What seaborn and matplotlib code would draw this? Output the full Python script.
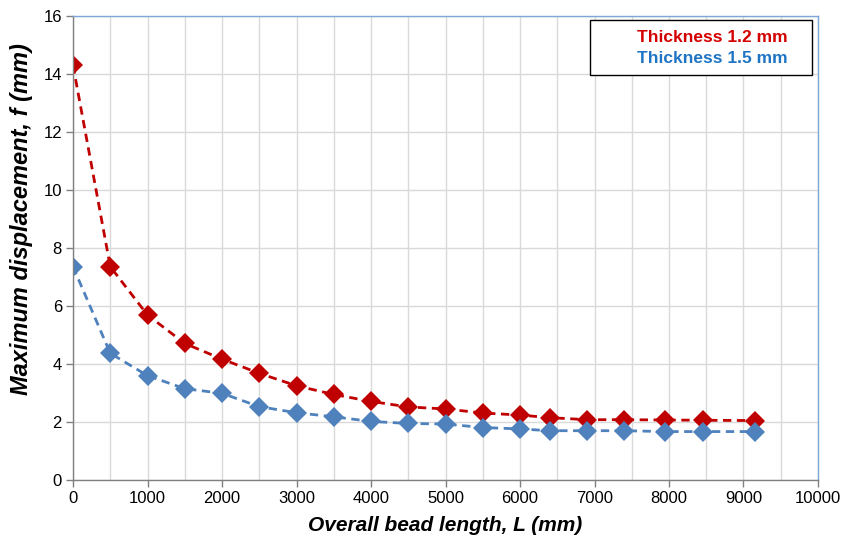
import numpy as np
import pandas as pd
import matplotlib
matplotlib.use("Agg")
import matplotlib.pyplot as plt
from matplotlib.patches import Rectangle
from matplotlib.ticker import MultipleLocator
import seaborn as sns

# bead length (mm)
lengths = [0, 500, 1000, 1500, 2000, 2500, 3000, 3500, 4000, 4500, 5000,
           5500, 6000, 6400, 6900, 7400, 7950, 8450, 9150]
# max displacement (mm)
disp_12 = [14.3, 7.36, 5.69, 4.71, 4.17, 3.68, 3.25, 2.95, 2.71, 2.52, 2.45,
           2.31, 2.24, 2.15, 2.08, 2.08, 2.07, 2.06, 2.05]
disp_15 = [7.36, 4.37, 3.6, 3.15, 2.99, 2.53, 2.32, 2.18, 2.02, 1.95, 1.93,
           1.81, 1.76, 1.7, 1.7, 1.7, 1.67, 1.67, 1.67]
series = ["Thickness 1.2 mm", "Thickness 1.5 mm"]

df = pd.DataFrame({
    "L": lengths * 2,
    "f": disp_12 + disp_15,
    "series": [series[0]] * len(lengths) + [series[1]] * len(lengths),
})

sns.set_theme(style="white")
plt.rcParams["font.family"] = ["Liberation Sans", "DejaVu Sans"]
plt.rcParams["text.color"] = "black"
plt.rcParams["axes.labelcolor"] = "black"

fig = plt.figure(figsize=(8.56, 5.39), dpi=100)
ax = fig.add_axes([0.0853, 0.1095, 0.8703, 0.8605])

palette = {series[0]: "#c00000", series[1]: "#4f81bd"}
sns.lineplot(data=df, x="L", y="f", hue="series", palette=palette, ax=ax,
             marker="D", markersize=10, markeredgewidth=0, linewidth=2,
             linestyle=(0, (3, 2)), legend=False)

ax.set_xlim(0, 10000)
ax.set_ylim(0, 16)
ax.xaxis.set_major_locator(MultipleLocator(1000))
ax.xaxis.set_minor_locator(MultipleLocator(500))
ax.yaxis.set_major_locator(MultipleLocator(2))
ax.grid(True, which="both", axis="x", color="#d9d9d9", linewidth=1)
ax.grid(True, which="major", axis="y", color="#d9d9d9", linewidth=1)
ax.set_axisbelow(True)

ax.tick_params(axis="both", which="major", direction="out", length=5,
               width=1, color="#808080", labelsize=12, pad=3,
               labelcolor="black", bottom=True, left=True)
ax.tick_params(axis="x", which="minor", length=0)

for s in ["left", "bottom"]:
    ax.spines[s].set_color("#808080")
    ax.spines[s].set_linewidth(1)
for s in ["top", "right"]:
    ax.spines[s].set_color("#7ea6d8")
    ax.spines[s].set_linewidth(1)

ax.set_xlabel("Overall bead length, L (mm)", fontsize=15,
              fontweight="bold", fontstyle="italic", labelpad=7)
ax.set_ylabel("Maximum displacement, f (mm)", fontsize=17,
              fontweight="bold", fontstyle="italic")
ax.yaxis.set_label_coords(-0.054, 0.5625)

# legend box: coloured text only, no markers
ax.add_patch(Rectangle((0.694, 0.8728), 0.298, 0.1186, transform=ax.transAxes,
                       facecolor="white", edgecolor="black", linewidth=1,
                       zorder=5))
text_colors = ["#d40000", "#1f75c4"]
for label, c, ty in zip(series, text_colors, [0.9547, 0.9095]):
    ax.text(0.9597, ty, label, transform=ax.transAxes, ha="right",
            va="center", color=c, fontsize=12.5, fontweight="bold", zorder=6)

fig.savefig("out.png", dpi=100)
